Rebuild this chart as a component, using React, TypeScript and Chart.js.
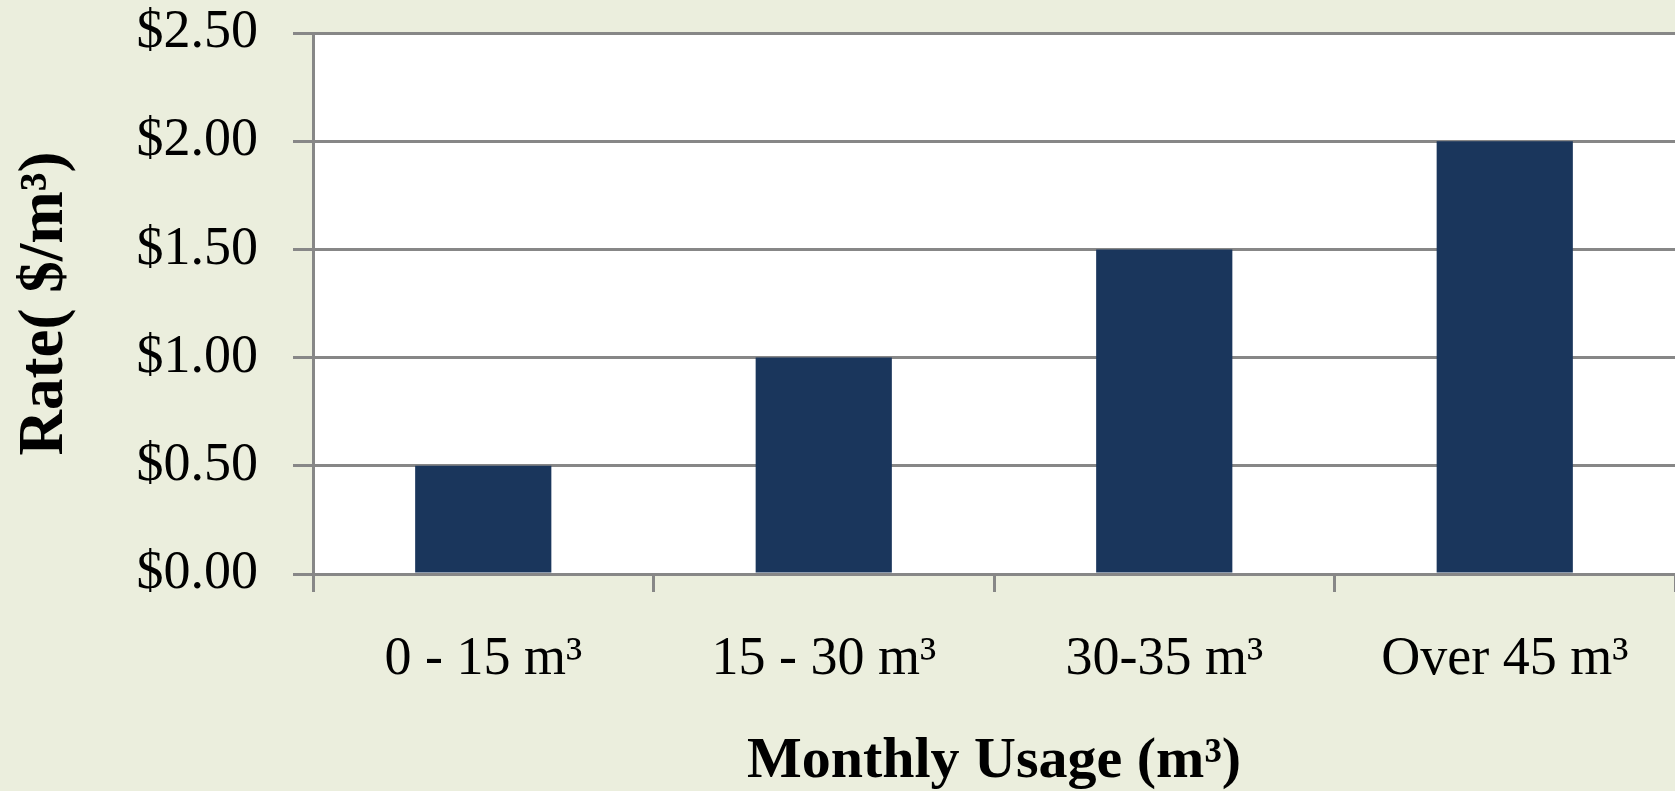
import React, { useEffect, useRef } from "react";
import { Chart, registerables } from "chart.js";

Chart.register(...registerables);

const categories = ["0 - 15 m³", "15 - 30 m³", "30-35 m³", "Over 45 m³"];
const rates = [0.5, 1.0, 1.5, 2.0];
const yTicks = [0, 0.5, 1.0, 1.5, 2.0, 2.5];
const xTitle = "Monthly Usage (m³)";
const yTitle = "Rate( $/m³)";

const BG = "#ebeedd";
const BAR = "#1a365c";
const GRID = "#878787";
const FONT = "'Liberation Serif', 'DejaVu Serif', serif";

const plotBg = {
  id: "plotBg",
  beforeDraw(chart: any) {
    const { ctx, chartArea } = chart;
    ctx.save();
    ctx.fillStyle = "#ffffff";
    ctx.fillRect(chartArea.left, chartArea.top, chartArea.right - chartArea.left, chartArea.bottom - chartArea.top);
    ctx.restore();
  },
};

export default function App() {
  const ref = useRef<HTMLCanvasElement | null>(null);
  useEffect(() => {
    document.body.style.margin = "0";
    const chart = new Chart(ref.current as HTMLCanvasElement, {
      type: "bar",
      data: {
        labels: categories,
        datasets: [
          {
            data: rates,
            backgroundColor: BAR,
            borderWidth: 0,
            categoryPercentage: 0.8,
            barPercentage: 0.5,
          },
        ],
      },
      options: {
        animation: false,
        responsive: false,
        maintainAspectRatio: false,
        layout: { padding: { top: 33, left: 0, right: -7, bottom: 0 } },
        plugins: { legend: { display: false }, tooltip: { enabled: false } },
        scales: {
          x: {
            grid: {
              offset: true,
              drawOnChartArea: false,
              drawTicks: true,
              tickLength: 18,
              color: GRID,
              lineWidth: 3,
            },
            border: { display: true, color: GRID, width: 3 },
            ticks: {
              color: "#000",
              font: { family: FONT, size: 54 },
              padding: 35,
            },
            title: {
              display: true,
              text: xTitle,
              color: "#000",
              font: { family: FONT, size: 58, weight: "bold", lineHeight: 1.0 },
              padding: { top: 0, bottom: 0 },
            },
            afterFit(scale: any) {
              scale.height = 217;
              scale.paddingLeft = 0;
              scale.paddingRight = 0;
            },
          },
          y: {
            min: 0,
            max: 2.5,
            afterBuildTicks(scale: any) {
              scale.ticks = yTicks.map((v) => ({ value: v }));
            },
            grid: {
              color: GRID,
              lineWidth: 3,
              drawTicks: true,
              tickLength: 20,
            },
            border: { display: true, color: GRID, width: 3 },
            ticks: {
              color: "#000",
              font: { family: FONT, size: 54 },
              padding: 35,
              callback: (v: any) => "$" + Number(v).toFixed(2),
            },
            title: {
              display: true,
              text: yTitle,
              color: "#000",
              font: { family: FONT, size: 63, weight: "bold", lineHeight: 1.0 },
              padding: { top: 14, bottom: 0 },
            },
            afterFit(scale: any) {
              scale.width = 313;
              scale.paddingTop = 0;
              scale.paddingBottom = 0;
            },
          },
        },
      },
      plugins: [plotBg],
    } as any);
    return () => chart.destroy();
  }, []);
  return (
    <div style={{ position: "fixed", left: 0, top: 0, width: 1675, height: 791, background: BG }}>
      <canvas ref={ref} width={1675} height={791} style={{ display: "block" }} />
    </div>
  );
}
